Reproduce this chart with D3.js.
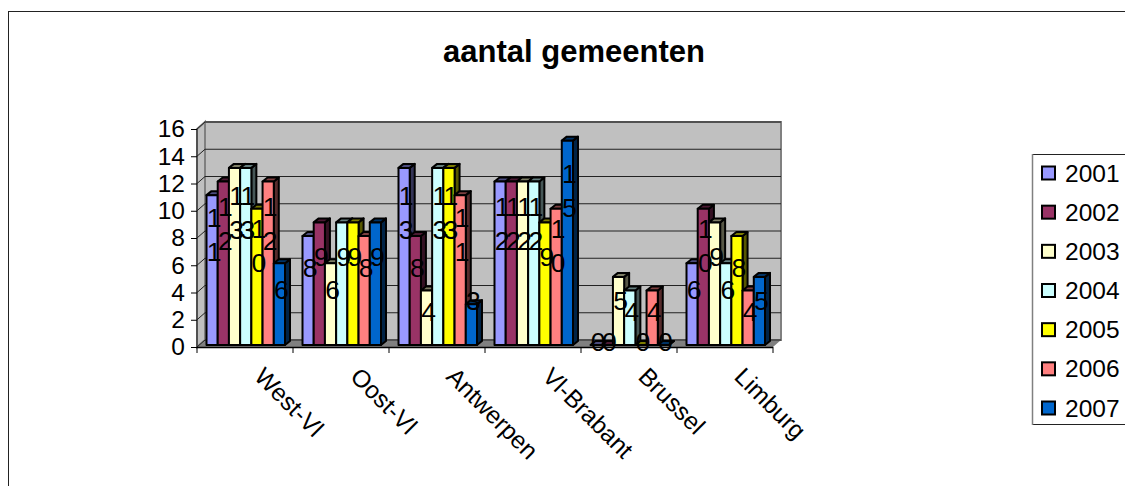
<!DOCTYPE html>
<html>
<head>
<meta charset="utf-8">
<script src="https://cdn.jsdelivr.net/npm/d3@7"></script>
<style>
  html, body { margin: 0; padding: 0; background: #fff; overflow: hidden; }
  text { font-family: "Liberation Sans", Arial, sans-serif; fill: #000; }
</style>
</head>
<body>
<svg id="chart" width="1125" height="486"></svg>
<script>
const categories = ['West-Vl', 'Oost-Vl', 'Antwerpen', 'Vl-Brabant', 'Brussel', 'Limburg'];
const years = ['2001', '2002', '2003', '2004', '2005', '2006', '2007'];
const colors = ['#9999ff', '#993366', '#ffffcc', '#ccffff', '#ffff00', '#ff8080', '#0066cc'];
const yTicks = [0, 2, 4, 6, 8, 10, 12, 14, 16];
const westVl = [11, 12, 13, 13, 10, 12, 6];
const oostVl = [8, 9, 6, 9, 9, 8, 9];
const antwerpen = [13, 8, 4, 13, 13, 11, 3];
const vlBrabant = [12, 12, 12, 12, 9, 10, 15];
const brussel = [0, 0, 5, 4, 0, 4, 0];
const limburg = [6, 10, 9, 6, 8, 4, 5];
const values = [westVl, oostVl, antwerpen, vlBrabant, brussel, limburg];

const svg = d3.select('#chart');

// outer frame, runs off the picture on the right and bottom
svg.append('rect').attr('x', 8.5).attr('y', 11.5).attr('width', 1300).attr('height', 700)
  .attr('fill', '#fff').attr('stroke', '#222').attr('stroke-width', 1);

svg.append('text').attr('x', 574).attr('y', 62)
  .attr('text-anchor', 'middle').attr('font-weight', 'bold').attr('font-size', 31)
  .text('aantal gemeenten');

const depthX = 8, depthY = 7;
const x0 = d3.scaleBand().domain(categories).range([197, 773]);
const y = d3.scaleLinear().domain([0, 16]).range([347, 129]);
const x1 = d3.scaleBand().domain(years).range([9.5, 88]);
const left = x0.range()[0], right = x0.range()[1];

// walls and floor
const pts = a => a.map(p => p.join(',')).join(' ');
svg.append('polygon')
  .attr('points', pts([[left + depthX, y(16) - depthY], [right + depthX, y(16) - depthY], [right + depthX, y(0) - depthY], [left + depthX, y(0) - depthY]]))
  .attr('fill', '#c0c0c0').attr('stroke', '#808080').attr('stroke-width', 2);
svg.append('polygon')
  .attr('points', pts([[left, y(16)], [left + depthX, y(16) - depthY], [left + depthX, y(0) - depthY], [left, y(0)]]))
  .attr('fill', '#c0c0c0').attr('stroke', '#808080').attr('stroke-width', 2);
svg.append('polygon')
  .attr('points', pts([[left, y(0)], [left + depthX, y(0) - depthY], [right + depthX, y(0) - depthY], [right, y(0)]]))
  .attr('fill', '#808080');

// gridlines
svg.append('g').selectAll('polyline').data(yTicks).join('polyline')
  .attr('points', d => pts([[left, y(d)], [left + depthX, y(d) - depthY], [right + depthX, y(d) - depthY]]))
  .attr('fill', 'none').attr('stroke', '#222').attr('stroke-width', 1);

// axes
const yAxis = d3.axisLeft(y).tickValues(yTicks).tickSize(6).tickPadding(6);
const yAxisG = svg.append('g').attr('transform', `translate(${left},0)`).call(yAxis);
yAxisG.select('.domain').attr('stroke', '#222').attr('d', `M0,${y(16)}V${y(0)}`);
yAxisG.selectAll('text').attr('font-size', 24.5).style('font-family', '"Liberation Sans", Arial, sans-serif').attr('fill', '#000');

svg.append('line').attr('x1', left).attr('x2', right).attr('y1', y(0) + .5).attr('y2', y(0) + .5)
  .attr('stroke', '#000').attr('stroke-width', 1.5);
svg.append('g').selectAll('line').data(d3.range(categories.length + 1)).join('line')
  .attr('x1', d => left + d * x0.step()).attr('x2', d => left + d * x0.step())
  .attr('y1', y(0)).attr('y2', y(0) + 6).attr('stroke', '#000');

svg.append('g').selectAll('text').data(categories).join('text')
  .attr('transform', d => `translate(${x0(d) + x0.bandwidth() / 2 + 8},378) rotate(45)`)
  .attr('font-size', 24.5).text(d => d);

// bars
const baseY = y(0) - 2;
const barH = d => d.v * (y(0) - y(1));
const sideX = 5, sideY = 4;
const flat = values.flatMap((row, c) => row.map((v, s) => ({ v, c: categories[c], s: years[s], color: colors[s] })));
const barX = d => x0(d.c) + x1(d.s);
const w = x1.bandwidth();

const bars = svg.append('g').selectAll('g').data(flat).join('g')
  .attr('stroke', '#000').attr('stroke-width', 2).attr('stroke-linejoin', 'round');
bars.append('polygon')
  .attr('points', d => {
    const a = barX(d), t = baseY - barH(d);
    return pts([[a + w, t], [a + w + sideX, t - sideY], [a + w + sideX, baseY - sideY], [a + w, baseY]]);
  })
  .attr('fill', d => d3.color(d.color).darker(3));
bars.append('polygon')
  .attr('points', d => {
    const a = barX(d), t = baseY - barH(d);
    return pts([[a, t], [a + sideX, t - sideY], [a + w + sideX, t - sideY], [a + w, t]]);
  })
  .attr('fill', d => d3.color(d.color).darker(2));
bars.append('rect')
  .attr('x', barX).attr('y', d => baseY - barH(d))
  .attr('width', w).attr('height', barH)
  .attr('fill', d => d.color);

// data labels wrap digit by digit because the bars are so narrow
const lineGap = 34;
const labelLift = v => v === 3 ? 45 : Math.max(4, v * 11 - 10);
const labels = svg.append('g').selectAll('text').data(flat).join('text')
  .attr('text-anchor', 'middle').attr('font-size', 26.5);
labels.selectAll('tspan').data(d => {
  const digits = String(d.v).split('');
  const mid = baseY - labelLift(d.v);
  return digits.map((ch, i) => ({ ch, yy: mid + (i - (digits.length - 1) / 2) * lineGap + 9.5, x: barX(d) + w / 2 + 2 }));
}).join('tspan')
  .attr('x', d => d.x).attr('y', d => d.yy).text(d => d.ch);

// legend
const legend = svg.append('g');
legend.append('rect').attr('x', 1032.5).attr('y', 154.5).attr('width', 200).attr('height', 270)
  .attr('fill', '#fff').attr('stroke', '#222').attr('stroke-width', 1);
legend.append('line').attr('x1', 1032.5).attr('x2', 1032.5).attr('y1', 154).attr('y2', 425)
  .attr('stroke', '#808080').attr('stroke-width', 1.5);
const legY = d3.scalePoint().domain(years).range([173, 408]);
const items = legend.selectAll('g.item').data(years).join('g').attr('class', 'item');
items.append('rect').attr('x', 1042).attr('y', d => legY(d) - 6.5).attr('width', 13).attr('height', 13)
  .attr('fill', (d, i) => colors[i]).attr('stroke', '#000').attr('stroke-width', 2);
items.append('text').attr('x', 1065).attr('y', d => legY(d) + 8.5).attr('font-size', 24.5).text(d => d);
</script>
</body>
</html>
